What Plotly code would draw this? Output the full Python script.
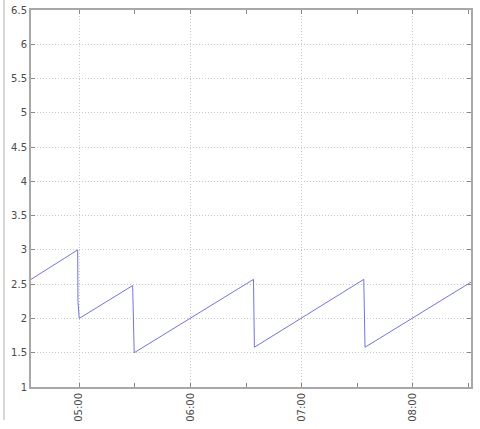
import plotly.graph_objects as go

times = ["2024-01-01 04:34:00", "2024-01-01 04:59:10", "2024-01-01 04:59:20",
         "2024-01-01 05:00:00", "2024-01-01 05:28:50", "2024-01-01 05:29:10",
         "2024-01-01 05:29:40", "2024-01-01 06:34:00", "2024-01-01 06:34:30",
         "2024-01-01 07:33:30", "2024-01-01 07:33:50", "2024-01-01 07:34:10",
         "2024-01-01 08:31:20"]
values = [2.57, 3.0, 2.25, 2.0, 2.48, 2.0, 1.5, 2.57, 1.58, 2.57, 2.08, 1.58, 2.53]

x_range = ["2024-01-01 04:34:00", "2024-01-01 08:31:20"]
y_range = [1, 6.5]

fig = go.Figure()
fig.add_trace(go.Scatter(x=times, y=values, mode="lines",
                         line=dict(color="#7474d8", width=1), showlegend=False))

axis_common = dict(showline=True, linecolor="#a8a8a8", linewidth=2, mirror="allticks",
                   ticks="inside", ticklen=4, tickcolor="#888888", automargin=False,
                   showgrid=True, gridcolor="#c8c8c8", griddash="1px,2px", gridwidth=1,
                   zeroline=False, tickfont=dict(family="DejaVu Sans", size=10, color="#4a4a4a"))

fig.update_xaxes(range=x_range, type="date", dtick=3600000, tick0="2024-01-01 05:00:00",
                 tickformat="%H:%M", tickangle=-90,
                 minor=dict(dtick=1800000, tick0="2024-01-01 05:00:00", ticks="inside",
                            ticklen=4, tickcolor="#888888", showgrid=False),
                 **axis_common)
fig.update_yaxes(range=y_range, dtick=0.5, tick0=1, **axis_common)

fig.add_shape(type="line", xref="paper", yref="paper", x0=-0.0614, x1=-0.0614,
              y0=1.03, y1=-0.088, line=dict(color="#b0b0b0", width=1))

fig.update_layout(width=480, height=429, margin=dict(l=31, r=9, t=10, b=42),
                  plot_bgcolor="white", paper_bgcolor="white",
                  font=dict(family="DejaVu Sans", size=10, color="#4a4a4a"))

fig.write_html("out.html", config={"displayModeBar": False},
               post_script="document.body.style.margin='0';document.body.style.overflow='hidden';")
